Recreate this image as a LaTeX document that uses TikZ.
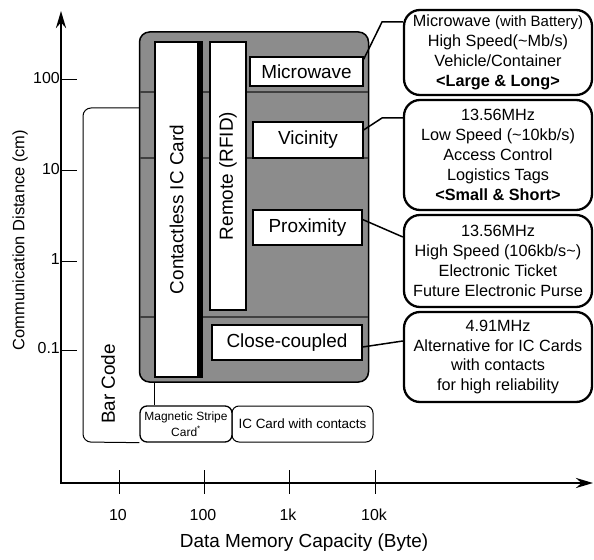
\documentclass[tikz,border=0pt]{standalone}
\usepackage{fontspec}
\setmainfont{Liberation Sans}
\usetikzlibrary{arrows.meta}

\begin{document}
\begin{tikzpicture}[x=1bp,y=-1bp,
    slot/.style={draw,fill=white,line width=1.2bp,inner sep=0pt,font=\fontsize{19}{22}\selectfont},
    note/.style={draw,line width=2.3bp,rounded corners=16bp,inner sep=0pt,minimum width=188bp,align=center,font=\fontsize{16.3}{20}\selectfont},
    band/.style={black!75,line width=1.5bp},
    link/.style={line width=1.5bp},
    tick/.style={line width=1bp},
    lbl/.style={inner sep=0pt,font=\fontsize{16}{18}\selectfont}]
  \useasboundingbox (0,0) rectangle (594,560);

  \node[draw,line width=1.5bp,fill=black!45,rounded corners=10bp,minimum width=229bp,minimum height=350bp] (contactless) at (254,207) {};
  \foreach \y in {92,158,317}
    \draw[band] ([xshift=1bp]contactless.west |- 0,\y) -- ([xshift=-1bp]contactless.east |- 0,\y);

  \node[slot,rotate=90,minimum width=335bp,minimum height=43bp] (card) at (176.5,209.5) {Contactless IC Card};
  \fill ([xshift=-0.5bp]card.south east) rectangle ([xshift=4bp]card.south west);
  \node[slot,rotate=90,minimum width=268bp,minimum height=36bp] (rfid) at (228,176) {Remote (RFID)};
  \node[slot,minimum width=113bp,minimum height=29bp] (micro) at (306.5,71.5) {Microwave};
  \node[slot,minimum width=110bp,minimum height=36bp] (vicin) at (308,140) {Vicinity};
  \node[slot,minimum width=109bp,minimum height=35bp] (proxi) at (307.5,227.5) {Proximity};
  \node[slot,minimum width=150bp,minimum height=35bp] (close) at (287,342.5) {Close-coupled};

  \node[note,minimum height=85bp] (cmw) at (498,52.5) {Microwave {\fontsize{15}{20}\selectfont(with Battery)}\\High Speed(\textasciitilde Mb/s)\\Vehicle/Container\\\textbf{<Large \& Long>}};
  \node[note,minimum height=110bp] (cvc) at (498,155) {13.56MHz\\Low Speed (\textasciitilde 10kb/s)\\Access Control\\Logistics Tags\\\textbf{<Small \& Short>}};
  \node[note,minimum height=92bp] (cpx) at (498,261) {13.56MHz\\High Speed (106kb/s\textasciitilde)\\Electronic Ticket\\Future Electronic Purse};
  \node[note,minimum height=90bp] (ccc) at (498,357) {4.91MHz\\Alternative for IC Cards\\with contacts\\for high reliability};

  \coordinate (mwbend) at (382,22);
  \coordinate (vcbend) at (382,118);
  \draw[link] (cmw.west |- mwbend) -- (mwbend) -- ([yshift=-3bp]micro.north east);
  \draw[link] (cvc.west |- vcbend) -- (vcbend) -- ([yshift=10bp]vicin.east);
  \draw[link] ([yshift=8bp]proxi.east) -- ([yshift=24bp]cpx.west);
  \draw[link] ([yshift=-4.5bp]close.east) -- ([yshift=16bp]ccc.west);

  \node[draw,line width=1bp,rounded corners=7bp,minimum width=141bp,minimum height=36bp,inner sep=0pt,font=\fontsize{13.5}{15}\selectfont] (iccard) at (302.5,424) {IC Card with contacts};
  \node[draw,fill=white,line width=1.3bp,rounded corners=7bp,minimum width=92bp,minimum height=36bp,inner sep=0pt,align=center,font=\fontsize{12}{16}\selectfont] (mag) at (186,424) {Magnetic Stripe\\Card\textsuperscript{*}};

  \coordinate (bartop) at (83,108);
  \coordinate (drop) at (154,400);
  \draw[line width=1bp,rounded corners=8bp] (contactless.west |- bartop) -- (bartop) -- (83,442) -- (mag.south west);
  \draw[line width=1bp] (contactless.south -| drop) -- (mag.north -| drop);
  \node[rotate=90,font=\fontsize{19}{22}\selectfont] (barcode) at (108,384) {Bar Code};

  \coordinate (origin) at (61,483);
  \coordinate (ytop) at (61,11);
  \coordinate (xend) at (593,483);
  \draw[line width=2.5bp,{Stealth[length=17bp,width=10bp]}-{Stealth[length=17bp,width=10bp]}] (ytop) -- (origin) -- (xend);

  \foreach \y/\t [count=\i] in {80/100,171/10,261/1,350/0.1} {
    \draw[tick] (61,\y) -- (77,\y);
    \node[lbl,anchor=east] (ylab\i) at (60,\y-1.5) {\t};
  }
  \foreach \x/\t [count=\i] in {119/10,204/100,289/1k,375/10k} {
    \draw[tick] (\x,470) -- (\x,494);
    \node[lbl] (xlab\i) at (\x-1,515) {\t};
  }

  \node[font=\fontsize{19}{22}\selectfont] (xname) at (304,543) {Data Memory Capacity (Byte)};
  \node[rotate=90,font=\fontsize{16.5}{19}\selectfont] (yname) at (20,240) {Communication Distance (cm)};
\end{tikzpicture}
\end{document}
